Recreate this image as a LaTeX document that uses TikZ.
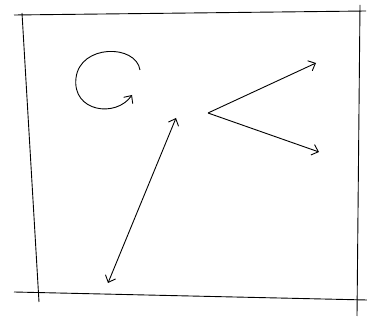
\documentclass[tikz,border=0pt]{standalone}
\usepackage{tikz}
\usetikzlibrary{arrows.meta}

\begin{document}
\begin{tikzpicture}[x=1pt,y=-1pt,line width=0.9pt,
     >={Straight Barb[length=6pt,width=11pt]}]
     \useasboundingbox (0,0) rectangle (367,320);
     % frame corners
     \coordinate (tl) at (14,15);
     \coordinate (tr) at (366,11);
     \coordinate (bl) at (14,292);
     \coordinate (br) at (367,300);
     \coordinate (lt) at (22,13);
     \coordinate (lb) at (39,302);
     \coordinate (rt) at (360,5);
     \coordinate (rb) at (357,316);
     % arrow ends
     \coordinate (c1) at (140,70);
     \coordinate (c2) at (132,95);
     \coordinate (v) at (208,113);
     \coordinate (v1) at (316,63);
     \coordinate (v2) at (319,152);
     \coordinate (d1) at (108,283);
     \coordinate (d2) at (176,118);
     \draw (tl) -- (tr);
     \draw (bl) -- (br);
     \draw (lt) -- (lb);
     \draw (rt) -- (rb);
     \draw[->] (c1) .. controls (136,44) and (80,44) .. (76,78)
       .. controls (72,112) and (116,118) .. (c2);
     \draw[->] (v) -- (v1);
     \draw[->] (v) -- (v2);
     \draw[<->] (d1) -- (d2);
     \end{tikzpicture}
\end{document}
